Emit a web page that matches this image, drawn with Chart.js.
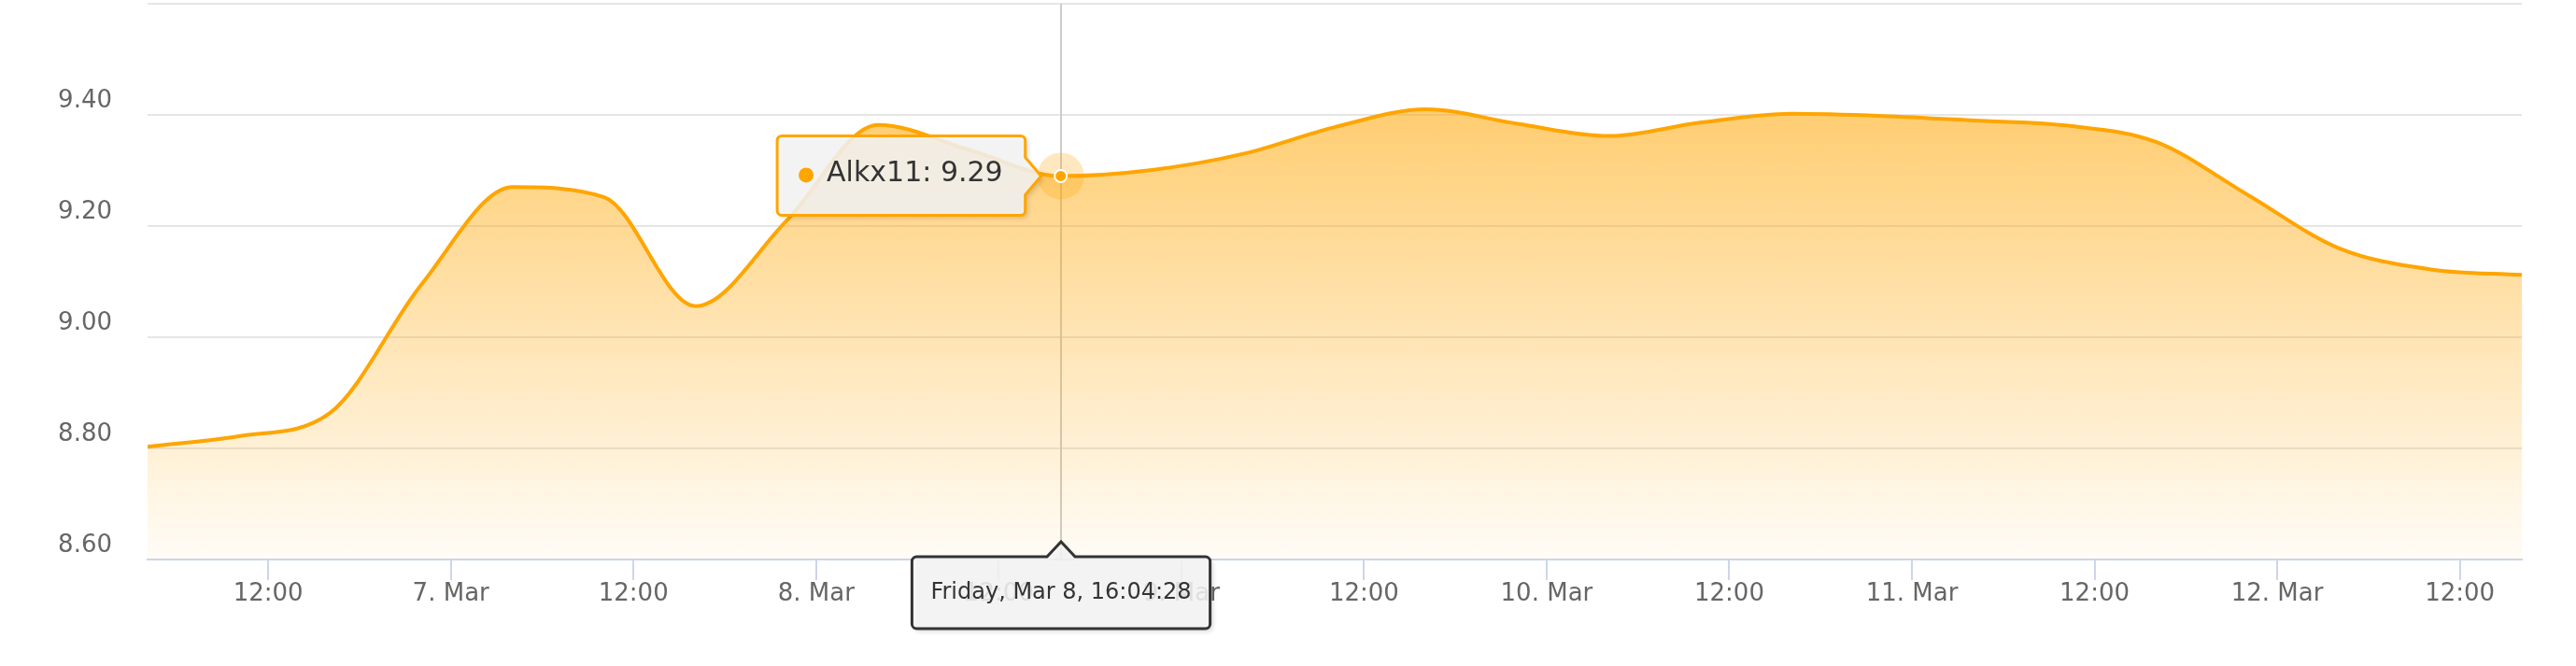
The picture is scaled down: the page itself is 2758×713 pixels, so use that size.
<!DOCTYPE html>
<html>
<head>
<meta charset="utf-8">
<script src="https://cdn.jsdelivr.net/npm/chart.js@4.4.1/dist/chart.umd.min.js"></script>
<style>
  html, body { margin: 0; padding: 0; background: #fff; }
  canvas { display: block; }
</style>
</head>
<body>
<canvas id="chart" width="2758" height="713"></canvas>
<script>
// Alkx11 readings, one every 6 hours
const sampleTimes = [
  '2019-03-06T04:04:28Z', '2019-03-06T10:04:28Z', '2019-03-06T16:04:28Z', '2019-03-06T22:04:28Z',
  '2019-03-07T04:04:28Z', '2019-03-07T10:04:28Z', '2019-03-07T16:04:28Z', '2019-03-07T22:04:28Z',
  '2019-03-08T04:04:28Z', '2019-03-08T10:04:28Z', '2019-03-08T16:04:28Z', '2019-03-08T22:04:28Z',
  '2019-03-09T04:04:28Z', '2019-03-09T10:04:28Z', '2019-03-09T16:04:28Z', '2019-03-09T22:04:28Z',
  '2019-03-10T04:04:28Z', '2019-03-10T10:04:28Z', '2019-03-10T16:04:28Z', '2019-03-10T22:04:28Z',
  '2019-03-11T04:04:28Z', '2019-03-11T10:04:28Z', '2019-03-11T16:04:28Z', '2019-03-11T22:04:28Z',
  '2019-03-12T04:04:28Z', '2019-03-12T10:04:28Z', '2019-03-12T16:04:28Z'
];
const alkxValues = [
  8.803, 8.822, 8.864, 9.095,
  9.270, 9.252, 9.056, 9.210,
  9.382, 9.337, 9.290, 9.301,
  9.330, 9.378, 9.410, 9.384,
  9.362, 9.386, 9.402, 9.398,
  9.390, 9.381, 9.351, 9.256,
  9.160, 9.122, 9.112
];

// x axis ticks (every 12 hours)
const tickTimes = [
  '2019-03-06T12:00:00Z', '2019-03-07T00:00:00Z', '2019-03-07T12:00:00Z', '2019-03-08T00:00:00Z',
  '2019-03-08T12:00:00Z', '2019-03-09T00:00:00Z', '2019-03-09T12:00:00Z', '2019-03-10T00:00:00Z',
  '2019-03-10T12:00:00Z', '2019-03-11T00:00:00Z', '2019-03-11T12:00:00Z', '2019-03-12T00:00:00Z',
  '2019-03-12T12:00:00Z'
];
const tickLabels = [
  '12:00', '7. Mar', '12:00', '8. Mar', '12:00', '9. Mar', '12:00',
  '10. Mar', '12:00', '11. Mar', '12:00', '12. Mar', '12:00'
];
const yTicks = [8.6, 8.8, 9.0, 9.2, 9.4, 9.6];
const yLabels = ['8.60', '8.80', '9.00', '9.20', '9.40', ''];

const seriesName = 'Alkx11';
const hoverIndex = 10;
const hoverDate = 'Friday, Mar 8, 16:04:28';

const lineColor = '#ffa500';
const FONT = '"DejaVu Sans", "Lucida Grande", sans-serif';

const xTimes = sampleTimes.map(s => Date.parse(s));
const xTicks = tickTimes.map(s => Date.parse(s));

function roundRect(ctx, x, y, w, h, r, arrow) {
  ctx.beginPath();
  ctx.moveTo(x + r, y);
  if (arrow && arrow.side === 'top') {
    ctx.lineTo(arrow.x - arrow.half, y);
    ctx.lineTo(arrow.x, arrow.y);
    ctx.lineTo(arrow.x + arrow.half, y);
  }
  ctx.lineTo(x + w - r, y);
  ctx.arcTo(x + w, y, x + w, y + r, r);
  if (arrow && arrow.side === 'right') {
    ctx.lineTo(x + w, arrow.y - arrow.half);
    ctx.lineTo(arrow.x, arrow.y);
    ctx.lineTo(x + w, arrow.y + arrow.half);
  }
  ctx.lineTo(x + w, y + h - r);
  ctx.arcTo(x + w, y + h, x + w - r, y + h, r);
  ctx.lineTo(x + r, y + h);
  ctx.arcTo(x, y + h, x, y + h - r, r);
  ctx.lineTo(x, y + r);
  ctx.arcTo(x, y, x + r, y, r);
  ctx.closePath();
}

function drawBox(ctx, x, y, w, h, arrow, border) {
  ctx.save();
  ctx.shadowColor = 'rgba(0,0,0,0.18)';
  ctx.shadowOffsetX = 3;
  ctx.shadowOffsetY = 3;
  ctx.shadowBlur = 5;
  roundRect(ctx, x, y, w, h, 5, arrow);
  ctx.fillStyle = 'rgba(247,247,247,0.85)';
  ctx.fill();
  ctx.restore();
  roundRect(ctx, x, y, w, h, 5, arrow);
  ctx.lineWidth = 3;
  ctx.strokeStyle = border;
  ctx.stroke();
}

const hoverPlugin = {
  id: 'hoverPlugin',
  beforeDatasetsDraw(chart) {
    const pt = chart.getDatasetMeta(0).data[hoverIndex];
    const { ctx, chartArea } = chart;
    ctx.save();
    ctx.strokeStyle = '#cccccc';
    ctx.lineWidth = 2;
    ctx.beginPath();
    ctx.moveTo(Math.round(pt.x), chartArea.top);
    ctx.lineTo(Math.round(pt.x), chartArea.bottom);
    ctx.stroke();
    ctx.restore();
  },
  afterDraw(chart) {
    const pt = chart.getDatasetMeta(0).data[hoverIndex];
    const { ctx, chartArea } = chart;
    const px = pt.x, py = pt.y;
    ctx.save();

    // halo + hovered marker
    ctx.fillStyle = 'rgba(255,165,0,0.25)';
    ctx.beginPath();
    ctx.arc(px, py, 25, 0, Math.PI * 2);
    ctx.fill();
    ctx.beginPath();
    ctx.arc(px, py, 6.5, 0, Math.PI * 2);
    ctx.fillStyle = lineColor;
    ctx.fill();
    ctx.lineWidth = 2;
    ctx.strokeStyle = '#ffffff';
    ctx.stroke();

    // series tooltip
    ctx.font = '30px ' + FONT;
    const text = seriesName + ': ' + alkxValues[hoverIndex].toFixed(2);
    const tw = ctx.measureText(text).width;
    const w = 23 + 16 + 14 + tw + 24;
    const h = 85;
    const tipX = px - 21;
    const bx = tipX - 17 - w;
    const by = py - 43;
    drawBox(ctx, bx, by, w, h, { side: 'right', x: tipX, y: py, half: 20 }, lineColor);
    ctx.fillStyle = lineColor;
    ctx.beginPath();
    ctx.arc(bx + 31, py - 1, 8, 0, Math.PI * 2);
    ctx.fill();
    ctx.fillStyle = '#333333';
    ctx.textBaseline = 'middle';
    ctx.textAlign = 'left';
    ctx.fillText(text, bx + 53, py - 2);

    // crosshair date label
    ctx.font = '24px ' + FONT;
    const dw = ctx.measureText(hoverDate).width + 40;
    const dh = 77;
    const dx = Math.round(px) - dw / 2;
    const dy = chartArea.bottom - 3;
    drawBox(ctx, dx, dy, dw, dh, { side: 'top', x: Math.round(px), y: chartArea.bottom - 19, half: 15 }, '#333333');
    ctx.fillStyle = '#333333';
    ctx.textAlign = 'center';
    ctx.textBaseline = 'middle';
    ctx.fillText(hoverDate, Math.round(px), dy + dh / 2);

    ctx.restore();
  }
};

new Chart(document.getElementById('chart'), {
  type: 'line',
  data: {
    datasets: [{
      label: seriesName,
      data: xTimes.map((t, i) => ({ x: t, y: alkxValues[i] })),
      borderColor: lineColor,
      borderWidth: 4,
      pointRadius: 0,
      cubicInterpolationMode: 'monotone',
      fill: 'start',
      backgroundColor: ctx => {
        const area = ctx.chart.chartArea;
        if (!area) return 'rgba(255,165,0,0.3)';
        const g = ctx.chart.ctx.createLinearGradient(0, area.top, 0, area.bottom);
        g.addColorStop(0, 'rgba(255,165,0,0.68)');
        g.addColorStop(1, 'rgba(255,165,0,0.03)');
        return g;
      }
    }]
  },
  options: {
    responsive: false,
    animation: false,
    events: [],
    layout: { padding: { top: 4, right: 58, left: 0, bottom: 0 } },
    plugins: { legend: { display: false }, tooltip: { enabled: false } },
    scales: {
      x: {
        type: 'linear',
        min: xTimes[0],
        max: xTimes[xTimes.length - 1],
        afterBuildTicks: s => { s.ticks = xTicks.map(v => ({ value: v })); },
        afterFit: s => { s.height = 114; s.paddingLeft = 0; s.paddingRight = 0; },
        grid: { drawOnChartArea: false, drawTicks: true, tickLength: 22, color: '#ccd6eb', lineWidth: 2 },
        border: { color: '#ccd6eb', width: 2 },
        ticks: {
          padding: 0,
          maxRotation: 0,
          autoSkip: false,
          color: '#666666',
          font: { family: FONT, size: 26 },
          callback: (v, i) => tickLabels[i]
        }
      },
      y: {
        min: 8.6,
        max: 9.6,
        afterBuildTicks: s => { s.ticks = yTicks.map(v => ({ value: v })); },
        afterFit: s => { s.width = 158; s.paddingTop = 0; s.paddingBottom = 0; },
        grid: { color: '#e6e6e6', lineWidth: 2, drawTicks: false },
        border: { display: false },
        ticks: {
          padding: 38,
          labelOffset: -15,
          color: '#666666',
          font: { family: FONT, size: 26 },
          callback: (v, i) => yLabels[i]
        }
      }
    }
  },
  plugins: [hoverPlugin]
});
</script>
</body>
</html>
